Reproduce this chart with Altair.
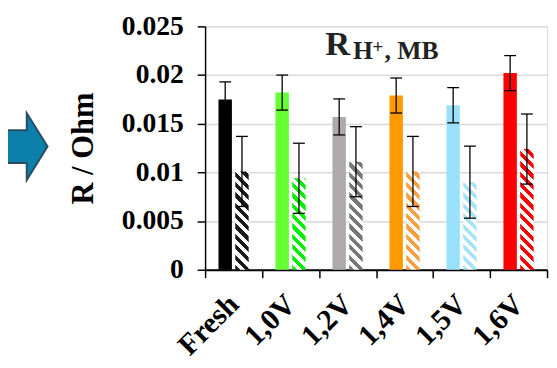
import altair as alt
import pandas as pd

categories = ["Fresh", "1,0V", "1,2V", "1,4V", "1,5V", "1,6V"]
solid_values = [0.0175, 0.0182, 0.0157, 0.0179, 0.0169, 0.0202]
solid_errors = [0.0018, 0.0018, 0.00185, 0.0018, 0.0018, 0.0018]
hatched_values = [0.0101, 0.0094, 0.0111, 0.0101, 0.0090, 0.0124]
hatched_errors = [0.0036, 0.0036, 0.0036, 0.0036, 0.0037, 0.0036]
solid_colors = ["#000000", "#66ff33", "#aeaaaa", "#ff9900", "#99e1fb", "#ff0000"]
hatched_colors = ["#1a1a1a", "#00ee00", "#777777", "#f7a040", "#a6e3f7", "#ff0000"]

rows = []
for i, c in enumerate(categories):
    rows.append(dict(category=c, kind="solid", value=solid_values[i],
                     lo=solid_values[i] - solid_errors[i], hi=solid_values[i] + solid_errors[i]))
    rows.append(dict(category=c, kind="hatched", value=hatched_values[i],
                     lo=hatched_values[i] - hatched_errors[i], hi=hatched_values[i] + hatched_errors[i]))
df = pd.DataFrame(rows)

W, H = 347, 247
YMAX = 0.025
P_IN, P_OUT = 0.2, 0.8
band = W / len(categories)
step = band / (2 - P_IN + 2 * P_OUT)
bw = step * (1 - P_IN)

FONT = "Liberation Serif"

x_enc = alt.X("category:N", sort=categories,
              scale=alt.Scale(domain=categories, paddingInner=0, paddingOuter=0),
              axis=alt.Axis(title=None, labelAngle=-45, labelAlign="right", labelBaseline="middle",
                            labelPadding=22, labelFont=FONT, labelFontWeight="bold", labelFontSize=30,
                            labelColor="black", tickBand="extent", tickSize=8, tickColor="black",
                            tickWidth=1.5, domainColor="black", domainWidth=2, grid=False))
xoff_enc = alt.XOffset("kind:N", scale=alt.Scale(domain=["solid", "hatched"], paddingInner=P_IN, paddingOuter=P_OUT))


def y_enc(field):
    return alt.Y(field, type="quantitative",
                 scale=alt.Scale(domain=[0, YMAX], nice=False),
                 axis=alt.Axis(title="R / Ohm", values=[0, 0.005, 0.01, 0.015, 0.02, 0.025], format=".3~f",
                               labelFont=FONT, labelFontWeight="bold", labelFontSize=28, labelColor="black",
                               labelPadding=14, tickSize=8, tickColor="black", tickWidth=1.5,
                               domainColor="black", domainWidth=1.5, grid=True, gridColor="#d9d9d9",
                               gridWidth=1.5, titleFont=FONT, titleFontWeight="bold", titleFontSize=31,
                               titleColor="black", titleX=-123, titleBaseline="middle"))


def hatch_fill(color, value):
    w = bw
    h = value / YMAX * H
    L = w + h
    k = L / (w * w + h * h)
    period, duty = 10.5, 0.5
    stops = []
    u = 0.0
    while u < L:
        a = u / L
        b = min((u + period * duty) / L, 1)
        c = min((u + period) / L, 1)
        stops += [alt.GradientStop(color=color, offset=a), alt.GradientStop(color=color, offset=b),
                  alt.GradientStop(color="white", offset=b), alt.GradientStop(color="white", offset=c)]
        u += period
    return alt.LinearGradient(gradient="linear", stops=stops, x1=0, y1=1, x2=k * w, y2=1 - k * h)


base = alt.Chart(df)

solid = base.transform_filter(alt.datum.kind == "solid").mark_bar().encode(
    x=x_enc, xOffset=xoff_enc, y=y_enc("value"),
    color=alt.Color("category:N", scale=alt.Scale(domain=categories, range=solid_colors), legend=None))

hatched_layers = []
for i, c in enumerate(categories):
    hatched_layers.append(
        base.transform_filter((alt.datum.kind == "hatched") & (alt.datum.category == c))
        .mark_bar(fill=hatch_fill(hatched_colors[i], hatched_values[i]), strokeWidth=0)
        .encode(x=x_enc, xOffset=xoff_enc, y=y_enc("value")))

rule = base.mark_rule(color="black", strokeWidth=1.3).encode(
    x=x_enc, xOffset=xoff_enc, y=y_enc("lo"), y2="hi")
cap_lo = base.mark_tick(color="black", thickness=1.3, size=12, opacity=1).encode(
    x=x_enc, xOffset=xoff_enc, y=y_enc("lo"))
cap_hi = base.mark_tick(color="black", thickness=1.3, size=12, opacity=1).encode(
    x=x_enc, xOffset=xoff_enc, y=y_enc("hi"))

one = alt.Data(values=[{"a": 1}])
arrow_path = "M-0.62,-0.49 L0.03,-0.49 L0.03,-1 L0.65,0 L0.03,1 L0.03,0.49 L-0.62,0.49 Z"
arrow = alt.Chart(one).mark_point(shape=arrow_path, size=4624, filled=True, fill="#0c7fab",
                                  stroke="#2b4d62", strokeWidth=2, opacity=1).encode(
    x=alt.value(-182), y=alt.value(122))

TC = "#222222"
t_R = alt.Chart(one).mark_text(text="R", font=FONT, fontWeight="bold", fontSize=35, color=TC,
                               align="left", baseline="alphabetic").encode(x=alt.value(122), y=alt.value(29))
t_H = alt.Chart(one).mark_text(text="H", font=FONT, fontWeight="bold", fontSize=26, color=TC,
                               align="left", baseline="alphabetic").encode(x=alt.value(150), y=alt.value(33))
t_p = alt.Chart(one).mark_text(text="+", font=FONT, fontWeight="bold", fontSize=19, color=TC,
                               align="left", baseline="alphabetic").encode(x=alt.value(170), y=alt.value(27))
t_MB = alt.Chart(one).mark_text(text=", MB", font=FONT, fontWeight="bold", fontSize=26, color=TC,
                                align="left", baseline="alphabetic").encode(x=alt.value(182), y=alt.value(33))

chart = alt.layer(solid, *hatched_layers, rule, cap_lo, cap_hi, arrow, t_R, t_H, t_p, t_MB).properties(
    width=W, height=H,
    autosize=alt.AutoSizeParams(type="none"),
    padding={"left": 200, "top": 16, "right": 2, "bottom": 96},
).configure_view(stroke="#404040", strokeWidth=1.5).configure(background="white")

chart.save("out.html", embed_options={"renderer": "svg", "actions": False})
